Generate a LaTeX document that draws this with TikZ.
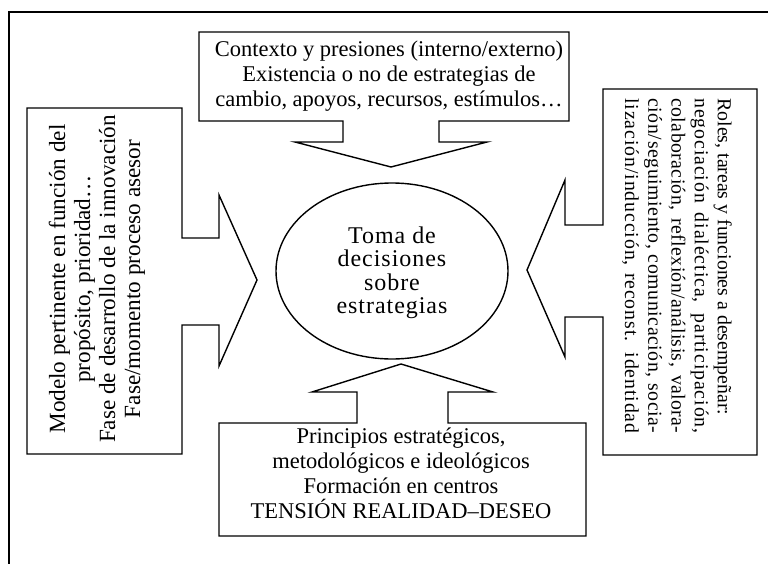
\documentclass[tikz,border=0pt]{standalone}
\usepackage{fontspec}
\setmainfont{Liberation Serif}
\newcommand{\justline}[2]{\makebox[335pt][s]{\addfontfeature{LetterSpace=#1}#2}}
\begin{document}
\begin{tikzpicture}[x=1pt,y=-1pt,
  callout/.style={draw=black,line width=1.4pt,line join=miter},
  frameline/.style={draw=black,line width=2pt},
  boxtext/.style={font=\fontsize{22.5}{25}\selectfont,align=center,inner sep=0pt},
  lefttext/.style={font=\fontsize{23.2}{25}\selectfont,align=center,inner sep=0pt},
  sidetext/.style={font=\fontsize{19.8}{23.2}\selectfont,inner sep=0pt},
  ovaltext/.style={font=\fontsize{24}{23.5}\selectfont\addfontfeature{LetterSpace=4},align=center,inner sep=0pt}]
\useasboundingbox (0,0) rectangle (768,564);
% outer frame (top and left only visible)
\draw[frameline] (9,564) -- (9,12.5) -- (768,12.5);
% top callout
\draw[callout] (199,32) -- (569,32) -- (569,121) -- (439,121) -- (439,142) -- (487,142)
  -- (391,167) -- (295,142) -- (343,142) -- (343,121) -- (199,121) -- cycle;
% bottom callout
\draw[callout] (219,536) -- (586,536) -- (586,423) -- (448,423) -- (448,392) -- (493,392)
  -- (401,364) -- (312,392) -- (357,392) -- (357,423) -- (219,423) -- cycle;
% left callout
\draw[callout] (27,108) -- (182,108) -- (182,238) -- (219,238) -- (219,195) -- (257,280)
  -- (219,366) -- (219,325) -- (182,325) -- (182,454) -- (27,454) -- cycle;
% right callout
\draw[callout] (757,89) -- (603,89) -- (603,225) -- (565,225) -- (565,180) -- (527,270)
  -- (565,357) -- (565,317) -- (603,317) -- (603,455) -- (757,455) -- cycle;
% central ellipse
\draw[line width=1.4pt] (392,271) ellipse [x radius=116, y radius=88];
\node[ovaltext] (centre) at (392,273) {Toma de\\decisiones\\sobre\\estrategias};
% texts
\node[boxtext] (top) at (389,76) {Contexto y presiones (interno/externo)\\Existencia o no de estrategias de\\cambio, apoyos, recursos, estímulos\ldots};
\node[boxtext] (bottom) at (401,473) {Principios estratégicos,\\metodológicos e ideológicos\\Formación en centros\\TENSIÓN REALIDAD–DESEO};
\node[lefttext,rotate=90] (left) at (97,279) {Modelo pertinente en función del\\propósito, prioridad\ldots\\Fase de desarrollo de la innovación\\Fase/momento proceso asesor};
\node[sidetext,rotate=-90,align=left] (right) at (677,266) {%
Roles, tareas y funciones a desempeñar:\\
\justline{4.5}{negociación dialéctica, participación,}\\
\justline{2}{colaboración, reflexión/análisis, valora-}\\
\justline{3}{ción/seguimiento, comunicación, socia-}\\
\justline{4.5}{lización/inducción, reconst. identidad}};
\end{tikzpicture}
\end{document}
